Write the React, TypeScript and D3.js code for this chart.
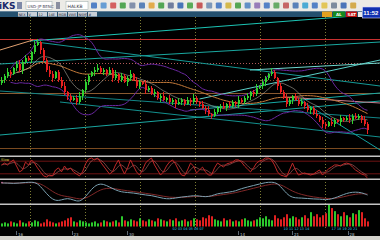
import React, { useEffect } from 'react';
import * as d3 from 'd3';

const W = 380, H = 240;

// ---- price data (one candle per period) ----
const firstOpen = 1386;
const closes = [
  1389,1393,1397,1395,1401,1405,1399,1407,1411,1409,1417,1424,1427,1419,1409,1399,1395,1391,1397,1389,
  1383,1377,1373,1369,1371,1367,1373,1379,1387,1393,1397,1399,1401,1397,1399,1395,1399,1391,1395,1389,
  1393,1387,1391,1395,1389,1383,1387,1385,1379,1381,1375,1377,1371,1373,1369,1371,1367,1369,1365,1367,
  1369,1365,1369,1367,1371,1367,1365,1361,1359,1355,1353,1357,1361,1363,1361,1365,1363,1367,1365,1369,
  1367,1371,1373,1377,1375,1381,1383,1387,1391,1395,1397,1391,1383,1377,1371,1365,1369,1373,1369,1365,
  1367,1363,1359,1361,1355,1353,1349,1345,1343,1347,1345,1349,1347,1351,1349,1351,1349,1353,1351,1353,
  1349,1345,1339
];
const wickUp = [
  3,2,4,2,1,3,4,2,3,2,1,4,3,1,2,2,4,3,1,2, 3,4,1,2,2,3,4,1,3,2, 1,3,4,2,2,1,3,2,4,1,
  3,2,2,4,1,3,2,1,4,2, 2,3,1,2,4,1,3,2,1,4, 2,1,3,2,4,2,1,3,2,4, 1,3,2,2,4,1,3,2,1,4,
  2,2,3,1,2,4,1,3,2,1, 4,2,1,3,2,4,2,1,3,2, 4,1,3,2,2,4,1,3,2,1, 4,2,1,3,1,2,4,2,3,2, 1,4,2
];
const wickDn = [
  2,3,2,4,1,3,2,4,2,1, 3,2,1,4,2,2,3,4,1,2, 2,3,4,2,1,3,2,4,2,3, 1,4,2,2,3,2,1,4,2,3,
  2,1,4,3,1,2,3,1,4,2, 1,3,2,4,1,2,2,3,4,1, 3,2,1,4,2,2,3,1,4,2, 3,1,2,4,1,3,2,2,3,4,
  1,2,2,4,3,2,1,3,4,2, 2,1,4,2,1,3,2,4,1,2, 2,3,2,4,1,2,2,4,3,1, 2,3,1,4,2,1,3,4,1,2, 3,2,4
];
const volumes = [
  3,4,3,5,4,3,6,4,3,5,4,6,5,3,4,7,5,4,3,4,
  5,6,8,9,5,4,6,5,4,3,4,5,3,4,6,5,4,5,6,4,
  10,6,5,7,6,5,8,6,5,7,6,5,8,7,6,5,7,6,8,5,
  6,7,5,6,8,7,6,9,8,11,10,7,6,5,8,6,7,5,6,5,
  7,8,6,5,6,7,9,8,10,7,6,11,8,7,9,12,8,10,9,7,
  9,11,8,14,10,12,9,11,13,21,18,15,12,10,14,11,9,13,12,16,14,8,5
];
// oscillator (0-100), one per candle
const oscValues = [
  62,71,62,76,86,57,29,38,76,62,86,71,48,29,10,5,14,10,38,48,
  29,57,38,48,29,19,10,29,67,90,95,86,95,76,57,38,19,29,62,86,
  48,19,48,86,57,29,14,38,71,86,95,62,38,14,29,57,76,86,67,38,
  14,10,38,71,57,24,38,52,29,14,14,48,71,62,52,67,71,76,86,86,
  76,57,43,29,48,71,81,86,95,95,86,62,29,14,10,5,38,71,38,14,
  19,24,19,14,19,29,38,14,29,43,52,62,62,57,67,71,67,52,38,29,
  19,14,0
];
// MACD-type line, one value every second candle
const macdValues = [
  9,9,8.5,9,9.5,10,9,2,-5,-9,-8,-6,-8,-10,-5,3,8,8,5,2,
  0,-0.5,-1,-2,-3,-3.5,-5,-6.5,-7,-6,-5,-4.5,-3.5,-4,-5,-4,-1.5,-1,0,1,
  3.5,5,6.5,8,9.5,10,9,2,-4.5,-6,-6,-6.5,-7,-7,-8,-7,-5,-2.5,-0.5,0,
  -0.5,-3
];
// time grid (candle index) and axis labels
const gridIdx = [9.5, 27.8, 46.2, 64.5, 86.2, 107.8];
const tickIdx = [5, 23.5, 42, 79, 97, 115.5];
const tickText = ['16', '23', '30', '14', '21', '28'];
const cyanIdx = [57, 94, 110];
const cyanText = ['02 03 04 05 06 07', '10 11 12 13 14', '17 18 19 20 21'];
// horizontal price levels
const hLevels = [1430, 1406, 1389, 1376, 1321];
// trend lines: [idx1, price1, idx2, price2]
const trendLines = [
  [9.5, 1428, 126.2, 1455],
  [-0.5, 1405, 126.2, 1427],
  [11.5, 1427, 126.2, 1383],
  [19.5, 1367, 126.2, 1332],
  [-0.5, 1334, 126.2, 1368],
  [99.5, 1369, 126.2, 1319],
  [66, 1370, 126.2, 1409],
  [-0.5, 1378, 126.2, 1351],
  [-0.5, 1419, 10.5, 1429],
  [94, 1372, 126.2, 1366],
  [82.8, 1399, 126.2, 1406],
  [62.8, 1359, 126.2, 1376],
];
const trendColors = ['#1cc4b4', '#1aa8a0', '#159a96', '#13908e', '#1aa6a0', '#14a0a0', '#5cd0c8', '#128486', '#e0a070', '#c88090', '#70d8d0', '#17a8a4'];
const levelColors = ['#c83030', '#b05858', '#8a4a2a', '#8a5a30', '#7a4a20'];
const levelDash = ['', '1,2', '1,2', '', ''];
const iconColors = ['#3a70c0', '#5090d0', '#d04848', '#3a9a3a', '#7080a0', '#4070b0', '#e0a030', '#3a9a3a', '#5a6a90', '#2a60b0', '#40a040', '#c04040', '#6a8ab0', '#3a70c0', '#d0b030', '#3a9a3a', '#4a80c0', '#8a6ab0', '#3a70c0', '#50a050', '#c05050', '#4070b0', '#30a0d0', '#3a70c0', '#e0c040', '#6a7a90', '#3060b0', '#d0a030'];
const navButtons = ['NEX', 'V', '12', '14E', 'MDB', 'VWE', 'NSMT', '#'];

function windowStats(arr: number[], n: number) {
  return arr.map((_, i) => {
    const w = arr.slice(Math.max(0, i - n + 1), i + 1);
    const m = d3.mean(w) as number;
    const s = w.length > 1 ? (d3.deviation(w) as number) : 0;
    return { i, m, s };
  });
}

export default function App() {
  useEffect(() => { document.body.style.margin = '0'; }, []);

  const x = d3.scaleLinear().domain([-0.5, 126.1667]).range([0, W]);
  const yM = d3.scaleLinear().domain([1314, 1452]).range([155, 17]);
  const yO = d3.scaleLinear().domain([0, 100]).range([178, 157]);
  const yD = d3.scaleLinear().domain([-11, 12]).range([203, 180]);
  const yV = d3.scaleLinear().domain([0, 22]).range([226.5, 204]);

  const bb = windowStats(closes, 20).slice(3);
  const sma30 = windowStats(closes, 30).slice(5);
  const sma10 = windowStats(closes, 10).slice(2);

  const lineIM = d3.line<{ i: number; v: number }>().x(d => x(d.i)).y(d => yM(d.v)).curve(d3.curveBasis);
  const upper = lineIM(bb.map(d => ({ i: d.i, v: d.m + 2 * d.s })));
  const lower = lineIM(bb.map(d => ({ i: d.i, v: d.m - 2 * d.s })));
  const ma30 = lineIM(sma30.map(d => ({ i: d.i, v: d.m })));
  const ma10 = lineIM(sma10.map(d => ({ i: d.i, v: d.m })));

  const oscLine = d3.line<number>().x((_, i) => x(i)).y(d => yO(d))(oscValues);
  const oscSig = d3.line<number>().x((_, i) => x(i)).y(d => yO(d)).curve(d3.curveBasis)(
    oscValues.map((_, i) => d3.mean(oscValues.slice(Math.max(0, i - 2), i + 1)) as number)
  );
  let ema = macdValues[0];
  const signal = macdValues.map(v => (ema = ema + 0.35 * (v - ema)));
  const macdLine = d3.line<number>().x((_, k) => x(2 * k)).y(d => yD(d)).curve(d3.curveBasis)(macdValues);
  const sigLine = d3.line<number>().x((_, k) => x(2 * k)).y(d => yD(d)).curve(d3.curveBasis)(signal);

  const font = 'DejaVu Sans, Liberation Sans, sans-serif';

  return (
    <svg width={W} height={H} style={{ position: 'absolute', left: 0, top: 0, display: 'block' }} fontFamily={font}>
      <defs>
        <clipPath id="mainClip"><rect x={0} y={17} width={W} height={138} /></clipPath>
      </defs>
      <rect x={0} y={0} width={W} height={H} fill="#000" />

      {/* top toolbar */}
      <rect x={0} y={0} width={W} height={11} fill="#ecebe6" />
      <text x={-1} y={9} fontSize={9} fontWeight="bold" fill="#1b2a6b">iKS</text>
      <rect x={17} y={2} width={5} height={7} fill="#7f8aa8" />
      <rect x={26} y={1.5} width={26} height={8} fill="#fff" stroke="#9aa" strokeWidth={0.5} />
      <text x={27.5} y={7.5} fontSize={4} fill="#445">USD-JP BENC</text>
      <rect x={56} y={2} width={4} height={7} fill="#8a8fa0" />
      <rect x={66} y={1.5} width={22} height={8} fill="#fff" stroke="#9aa" strokeWidth={0.5} />
      <text x={67.5} y={7.5} fontSize={4.5} fill="#334">HALKB</text>
      {iconColors.map((c, k) => (
        <rect key={k} x={91 + k * 9.6} y={2.5} width={6} height={6} rx={1} fill={c} opacity={0.85} />
      ))}

      {/* second bar */}
      <rect x={0} y={11} width={W} height={6} fill="#24506e" />
      <rect x={0} y={11} width={W} height={0.6} fill="#8aa0b4" />
      {navButtons.map((t, k) => (
        <g key={t}>
          <rect x={18 + k * 10} y={12} width={9} height={4.5} fill="#c9d0d8" />
          <text x={18.5 + k * 10} y={15.7} fontSize={3.4} fill="#223">{t}</text>
        </g>
      ))}
      <rect x={322} y={11.5} width={10} height={5.5} fill="#e0a020" />
      <rect x={333} y={11.5} width={12} height={5.5} fill="#138a1c" />
      <text x={336} y={16} fontSize={4} fill="#fff" fontWeight="bold">AL</text>
      <rect x={346} y={11.5} width={11} height={5.5} fill="#c21212" />
      <text x={347.5} y={16} fontSize={4} fill="#fff" fontWeight="bold">SAT</text>
      <rect x={358} y={12} width={4} height={5} fill="#e8e8e8" />
      <rect x={362.5} y={7} width={18} height={11} fill="#1030b0" stroke="#d8d8ff" strokeWidth={0.6} />
      <text x={363.3} y={15} fontSize={6} fontWeight="bold" fill="#fff" fontFamily="Liberation Sans, Arial, sans-serif">11:52</text>

      {/* vertical time grid across all panels */}
      {gridIdx.map((g, k) => (
        <line key={k} x1={Math.round(x(g)) + 0.5} x2={Math.round(x(g)) + 0.5} y1={17} y2={228}
          stroke="#7c7c34" strokeWidth={1} strokeDasharray="1,2" />
      ))}

      {/* main panel */}
      <g clipPath="url(#mainClip)">
        {hLevels.map((v, k) => (
          <line key={k} x1={0} x2={W} y1={Math.round(yM(v)) + 0.5} y2={Math.round(yM(v)) + 0.5}
            stroke={levelColors[k]} strokeWidth={1} strokeDasharray={levelDash[k] || undefined} />
        ))}
        {trendLines.map((t, k) => (
          <line key={k} x1={x(t[0])} y1={yM(t[1])} x2={x(t[2])} y2={yM(t[3])}
            stroke={trendColors[k]} strokeWidth={1} />
        ))}
        <path d={ma30 || ''} fill="none" stroke="#c47a3a" strokeWidth={1} />
        <path d={ma10 || ''} fill="none" stroke="#d8d4c8" strokeWidth={0.8} opacity={0.6} />
        <path d={upper || ''} fill="none" stroke="#6a28a0" strokeWidth={1} />
        <path d={lower || ''} fill="none" stroke="#6a28a0" strokeWidth={1} />
        {closes.map((c, i) => {
          const o = i === 0 ? firstOpen : closes[i - 1];
          const up = c >= o;
          const hi = Math.max(o, c) + (wickUp[i] ?? 1);
          const lo = Math.min(o, c) - (wickDn[i] ?? 1);
          const col = up ? '#2fd02f' : '#e82020';
          const cx = Math.floor(x(i));
          return (
            <g key={i}>
              <line x1={cx + 0.5} x2={cx + 0.5} y1={yM(hi)} y2={yM(lo)} stroke={col} strokeWidth={1} />
              <rect x={cx} y={yM(Math.max(o, c))} width={2} height={Math.max(1, Math.abs(yM(o) - yM(c)))} fill={col} />
            </g>
          );
        })}
      </g>

      {/* separators */}
      {[156, 179, 204].map(yy => (
        <rect key={yy} x={0} y={yy - 0.5} width={W} height={1.5} fill="#c4c4c4" />
      ))}

      {/* oscillator panel */}
      <line x1={0} x2={W} y1={yO(80)} y2={yO(80)} stroke="#6e1414" strokeWidth={1} />
      <line x1={0} x2={W} y1={yO(20)} y2={yO(20)} stroke="#6e1414" strokeWidth={1} />
      <path d={oscSig || ''} fill="none" stroke="#d07070" strokeWidth={0.7} opacity={0.8} />
      <path d={oscLine || ''} fill="none" stroke="#c02828" strokeWidth={1} />
      <text x={1} y={161} fontSize={3.5} fill="#d8c040">Slow</text>

      {/* macd panel */}
      <path d={sigLine || ''} fill="none" stroke="#a03232" strokeWidth={0.8} />
      <path d={macdLine || ''} fill="none" stroke="#7aa0b0" strokeWidth={1} />
      <circle cx={2} cy={182.5} r={0.8} fill="#d070a0" />

      {/* volume panel */}
      {volumes.map((v, i) => {
        const o = i === 0 ? firstOpen : closes[i - 1];
        const up = closes[i] >= o;
        const cx = Math.floor(x(i));
        return (
          <rect key={i} x={cx} y={yV(v)} width={2} height={yV(0) - yV(v)} fill={up ? '#2cc82c' : '#e02020'} />
        );
      })}

      {/* time axis */}
      {cyanIdx.map((t, k) => (
        <text key={k} x={x(t)} y={230.3} fontSize={3.4} fill="#30c8e8">{cyanText[k]}</text>
      ))}
      {tickIdx.map((t, k) => (
        <g key={k}>
          <line x1={Math.round(x(t)) + 0.5} x2={Math.round(x(t)) + 0.5} y1={231} y2={235} stroke="#9ab" strokeWidth={0.6} />
          <text x={x(t) + 1.5} y={235.6} fontSize={4} fill="#b8c0c8">{tickText[k]}</text>
        </g>
      ))}

      {/* status bar */}
      <rect x={0} y={236} width={W} height={4} fill="#d4d2cc" />
    </svg>
  );
}
